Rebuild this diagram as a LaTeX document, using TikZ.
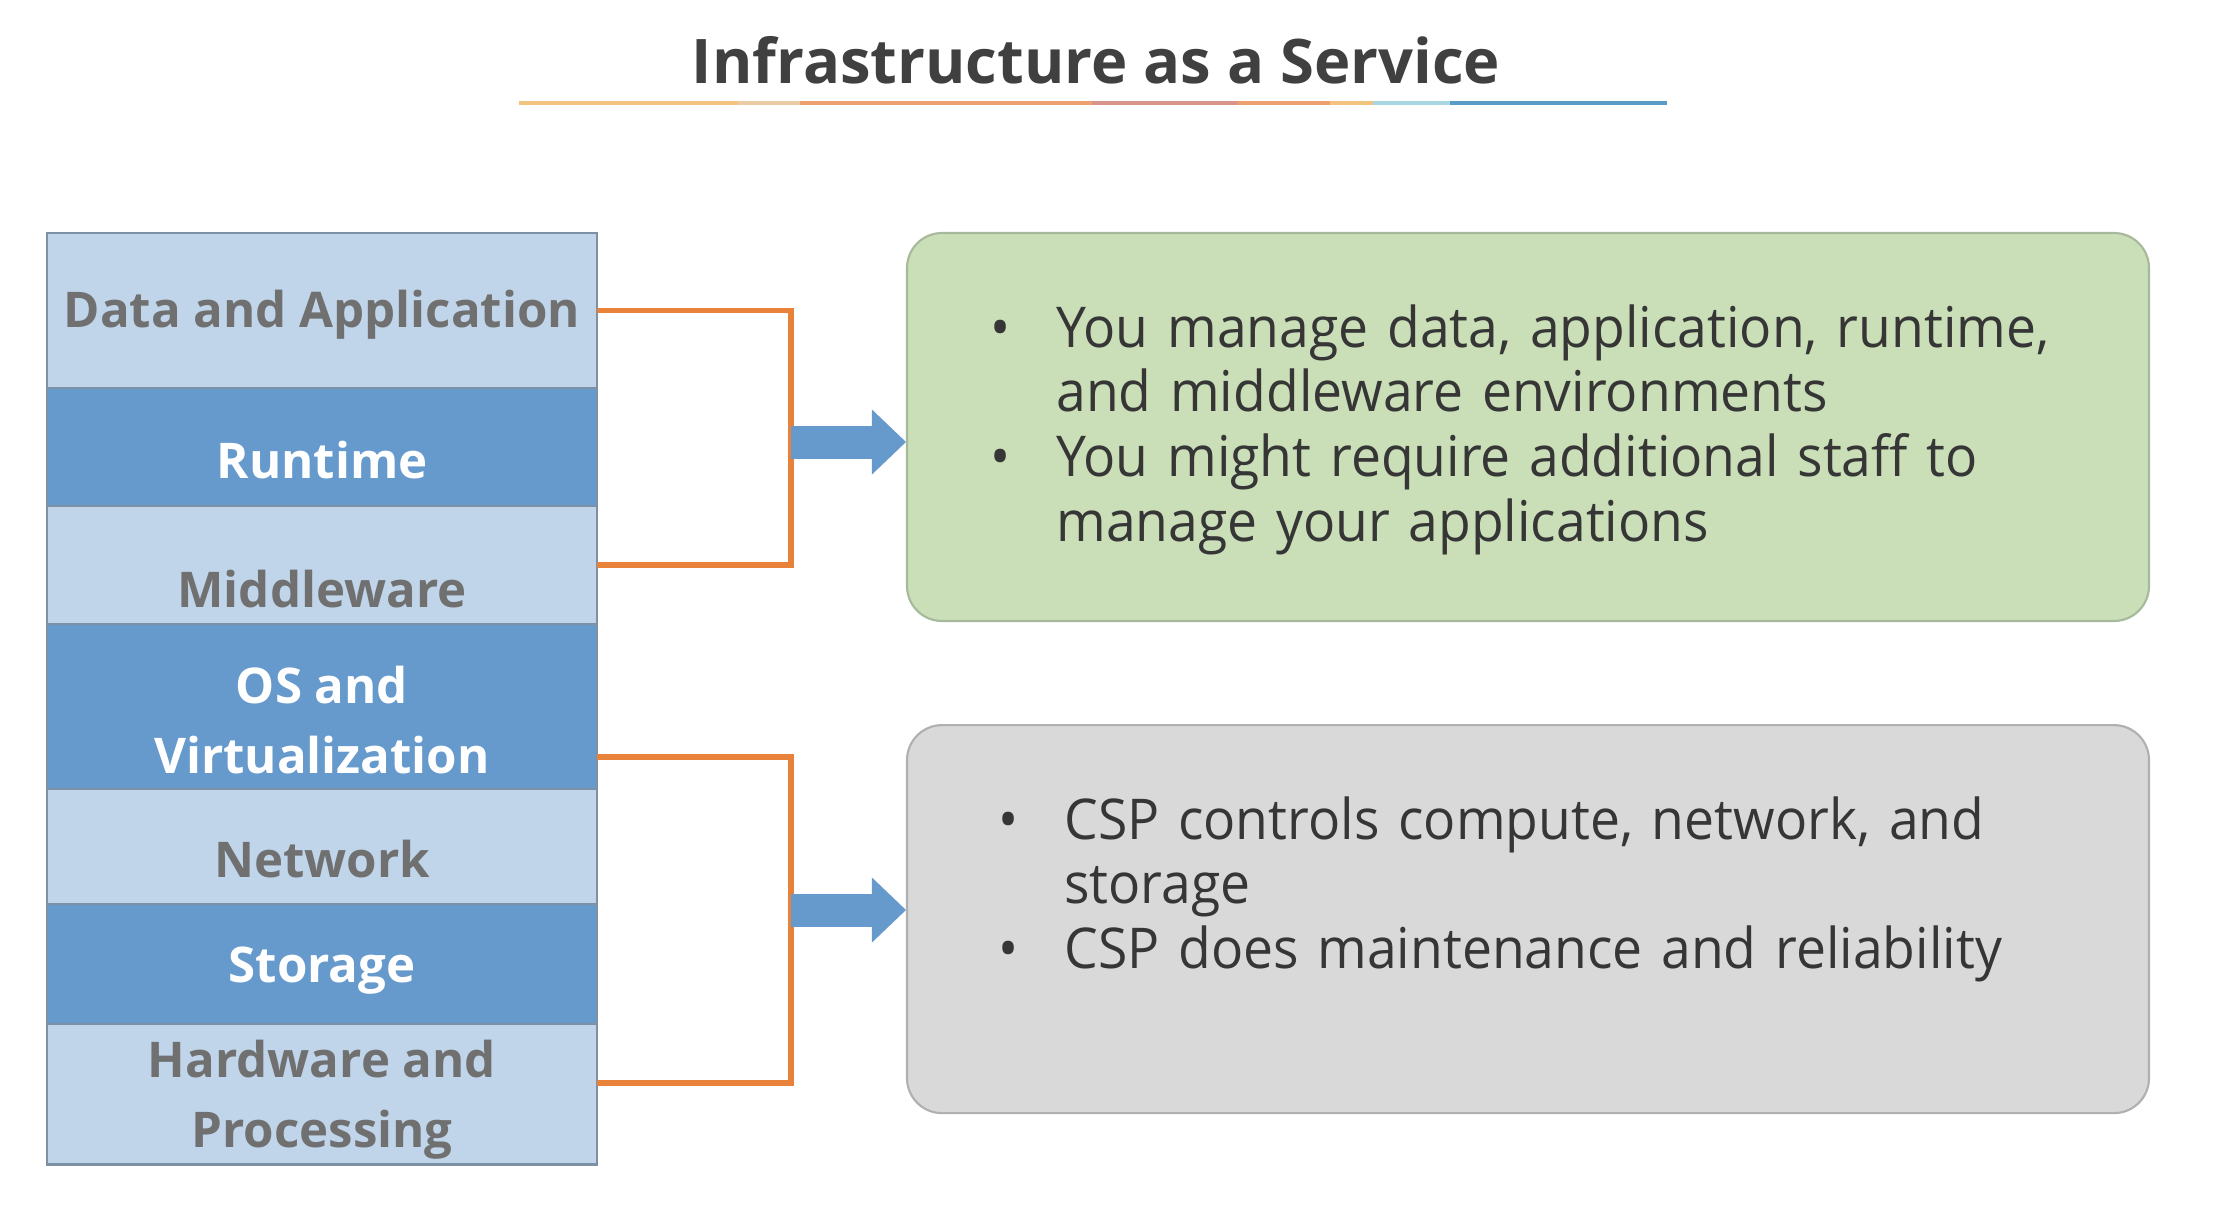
\documentclass[tikz,border=0pt]{standalone}
\usepackage{fontspec}
\setmainfont{Open Sans}
\newfontfamily\bodyfont[FakeStretch=0.95]{Open Sans}
\usepackage{tikz}
\usetikzlibrary{positioning, arrows.meta}
\definecolor{lightlayer}{HTML}{C0D5EA}
\definecolor{darklayer}{HTML}{6699CC}
\definecolor{layeredge}{HTML}{7E90A4}
\definecolor{layertext}{HTML}{707070}
\definecolor{boxgreen}{HTML}{CADFB8}
\definecolor{greenedge}{HTML}{A6B99A}
\definecolor{boxgrey}{HTML}{D9D9D9}
\definecolor{greyedge}{HTML}{B0B0B0}
\definecolor{bracketorange}{HTML}{E8823A}
\definecolor{bodytext}{HTML}{363636}
\definecolor{titletext}{HTML}{404040}
\tikzset{layer/.style={rectangle, draw=layeredge, line width=0.8pt, minimum width=5.5cm, inner sep=0pt, outer sep=0pt, align=center, font=\fontsize{14}{20}\selectfont\bfseries},
    light layer/.style={layer, fill=lightlayer, text=layertext},
    dark layer/.style={layer, fill=darklayer, text=white},
    info box/.style={rectangle, rounded corners=0.35cm, line width=0.6pt, minimum width=12.42cm, minimum height=3.88cm, inner sep=0pt},
    info text/.style={inner sep=0pt, text width=11cm, align=left, text=bodytext, font=\bodyfont\fontsize{16}{18.4}\selectfont},
    bracket/.style={draw=bracketorange, line width=1.6pt},
    block arrow/.style={draw=darklayer, line width=0.33cm, -{Triangle[width=0.65cm, length=0.34cm, line width=0pt]}},}
\newcommand{\bul}[1]{\noindent\hangindent=0.56cm\hangafter=1\makebox[0.56cm][l]{\hspace{-0.1cm}\textbullet}#1\par}
\newcommand{\shiftdown}[2]{\raisebox{-#1}[\height][\depth]{\begin{tabular}{@{}c@{}}#2\end{tabular}}}

\begin{document}
\begin{tikzpicture}[-, thick]
        \fill[white] (0,0) rectangle (22.14,-12.12);
        \useasboundingbox (0,0) rectangle (22.14,-12.12);
        % Title
        \node[anchor=base, text=titletext, font=\fontsize{17.5}{21}\selectfont\bfseries] (title) at (10.96,-0.83) {Infrastructure as a Service};
        \foreach \xa/\xb/\col in {5.19/7.38/F3C27E, 7.38/8.00/EBCBA4, 8.00/10.92/EDA070, 10.92/12.38/D8968A, 12.38/13.30/EDA070, 13.30/13.73/F3C27E, 13.73/14.50/A9D6E3, 14.50/16.67/5B9BC8}
        {
            \definecolor{seg}{HTML}{\col}
            \draw[seg, line width=1.3pt] (\xa,-1.03) -- (\xb,-1.03);
        }
        % Layers
        \node[light layer, minimum height=1.55cm] (1) at (3.22,-3.105) {\shiftdown{0.3mm}{Data and Application}};
        \node[dark layer, minimum height=1.18cm] [below = 0pt of 1] (2) {\shiftdown{1.7mm}{Runtime}};
        \node[light layer, minimum height=1.18cm] [below = 0pt of 2] (3) {\shiftdown{2.8mm}{Middleware}};
        \node[dark layer, minimum height=1.65cm] [below = 0pt of 3] (4) {\shiftdown{1.8mm}{OS and\\Virtualization}};
        \node[light layer, minimum height=1.15cm] [below = 0pt of 4] (5) {\shiftdown{1.7mm}{Network}};
        \node[dark layer, minimum height=1.20cm] [below = 0pt of 5] (6) {\shiftdown{0.4mm}{Storage}};
        \node[light layer, minimum height=1.39cm] [below = 0pt of 6] (7) {\shiftdown{0.4mm}{Hardware and\\Processing}};
        % Boxes
        \node[info box, fill=boxgreen, draw=greenedge] (8) at (15.28,-4.27) {};
        \node[info box, fill=boxgrey, draw=greyedge] [below = 1.02cm of 8] (9) {};
        \node[info text] [below right = 0.71cm and 0.93cm of 8.north west] (t8) {\bul{You manage data, application, runtime,\newline and middleware environments}\bul{You might require additional staff to\newline manage your applications}};
        \node[info text] [below right = 0.71cm and 1.01cm of 9.north west] (t9) {\bul{CSP controls compute, network, and\newline storage}\bul{CSP does maintenance and reliability}};
        % Brackets and arrows
        \coordinate (b1) at (7.91,-4.42);
        \coordinate (b2) at (7.91,-9.10);
        \path[bracket] (1.east) -| (b1) |- (3.east);
        \path[bracket] ([yshift=-5.05mm]4.east) -| (b2) |- ([yshift=1.15mm]7.east);
        \draw[block arrow] (b1) -- (8.west |- b1);
        \draw[block arrow] (b2) -- (9.west |- b2);
    \end{tikzpicture}
\end{document}
